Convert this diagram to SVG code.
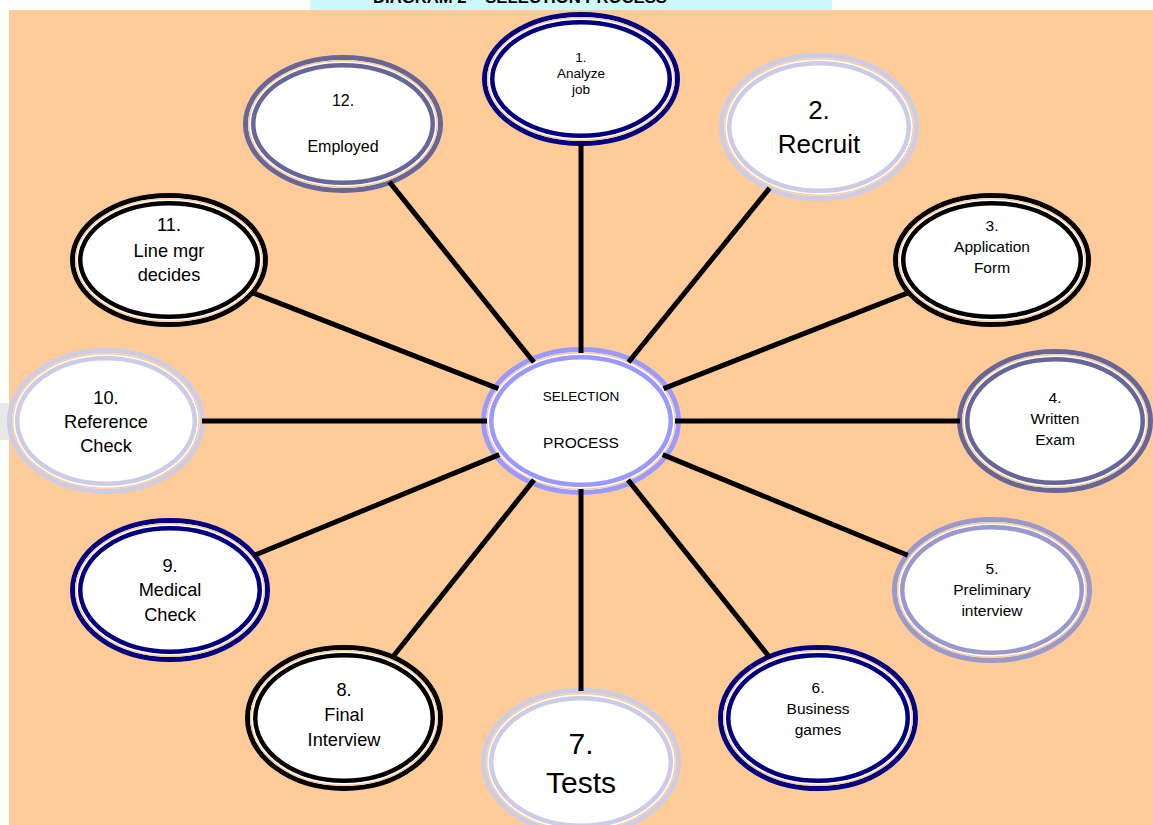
<svg xmlns="http://www.w3.org/2000/svg" width="1153" height="825" viewBox="0 0 1153 825">
<style>
.ring{fill:#fff}
.o{stroke-width:5}
.g{fill:none;stroke:#FFCC99;stroke-width:1.5}
.i{stroke-width:4.5}
.navy .c{stroke:#000080}
.lav .c{stroke:#CCCCE6}
.blk .c{stroke:#000}
.slate .c{stroke:#666699}
.peri .c{stroke:#9999CC}
.hub .c{stroke:#9999FF}
text{font-family:"Liberation Sans",Arial,Helvetica,sans-serif;fill:#000;text-anchor:middle}
.s1{font-size:13.5px}
.s2{font-size:26px}
.sm{font-size:15.5px}
.s7{font-size:30px}
.lg{font-size:18.2px}
.s12{font-size:16px}
#connectors line{stroke:#000;stroke-width:5}
</style>
<rect x="0" y="0" width="1153" height="825" fill="#fff"/>
<rect x="310" y="0" width="522" height="10" fill="#CCFAFC"/>
<rect x="0" y="403" width="9" height="37" fill="#E8E8E8"/>
<rect x="9" y="10" width="1144" height="815" fill="#FFCC99"/>
<text x="520" y="3" font-size="16.5" font-weight="bold" textLength="294" lengthAdjust="spacingAndGlyphs">DIAGRAM 2 – SELECTION PROCESS</text>

<g id="hub" class="hub">
<ellipse class="ring c o" cx="581" cy="421" rx="97.5" ry="71.5"/>
<ellipse class="g" cx="581" cy="421" rx="94.25" ry="68.25"/>
<ellipse class="ring c i" cx="581" cy="421" rx="89.75" ry="63.75"/>
<text x="581" y="401" font-size="13.5">SELECTION</text>
<text x="581" y="448" font-size="15.5">PROCESS</text>
</g>

<g id="n1" class="navy">
<ellipse class="ring c o" cx="581" cy="79" rx="96.5" ry="64.5"/>
<ellipse class="g" cx="581" cy="79" rx="93.25" ry="61.25"/>
<ellipse class="ring c i" cx="581" cy="79" rx="88.75" ry="56.75"/>
<text class="s1" x="581" y="62">1.</text>
<text class="s1" x="581" y="78">Analyze</text>
<text class="s1" x="581" y="94">job</text>
</g>

<g id="n2" class="lav">
<ellipse class="ring c o" cx="819" cy="127" rx="97.5" ry="71.5"/>
<ellipse class="g" cx="819" cy="127" rx="94.25" ry="68.25"/>
<ellipse class="ring c i" cx="819" cy="127" rx="89.75" ry="63.75"/>
<text class="s2" x="819" y="119">2.</text>
<text class="s2" x="819" y="153">Recruit</text>
</g>

<g id="n3" class="blk">
<ellipse class="ring c o" cx="992" cy="260" rx="96.5" ry="64.5"/>
<ellipse class="g" cx="992" cy="260" rx="93.25" ry="61.25"/>
<ellipse class="ring c i" cx="992" cy="260" rx="88.75" ry="56.75"/>
<text class="sm" x="992" y="231">3.</text>
<text class="sm" x="992" y="252">Application</text>
<text class="sm" x="992" y="273">Form</text>
</g>

<g id="n4" class="slate">
<ellipse class="ring c o" cx="1055" cy="421" rx="95.5" ry="69.5"/>
<ellipse class="g" cx="1055" cy="421" rx="92.25" ry="66.25"/>
<ellipse class="ring c i" cx="1055" cy="421" rx="87.75" ry="61.75"/>
<text class="sm" x="1055" y="403">4.</text>
<text class="sm" x="1055" y="424">Written</text>
<text class="sm" x="1055" y="444.5">Exam</text>
</g>

<g id="n5" class="peri">
<ellipse class="ring c o" cx="992" cy="590" rx="97.5" ry="70.5"/>
<ellipse class="g" cx="992" cy="590" rx="94.25" ry="67.25"/>
<ellipse class="ring c i" cx="992" cy="590" rx="89.75" ry="62.75"/>
<text class="sm" x="992" y="573.5">5.</text>
<text class="sm" x="992" y="594.5">Preliminary</text>
<text class="sm" x="992" y="615.5">interview</text>
</g>

<g id="n6" class="navy">
<ellipse class="ring c o" cx="818" cy="718" rx="97.5" ry="70.5"/>
<ellipse class="g" cx="818" cy="718" rx="94.25" ry="67.25"/>
<ellipse class="ring c i" cx="818" cy="718" rx="89.75" ry="62.75"/>
<text class="sm" x="818" y="693">6.</text>
<text class="sm" x="818" y="714">Business</text>
<text class="sm" x="818" y="735">games</text>
</g>

<g id="n7" class="lav">
<ellipse class="ring c o" cx="581" cy="762" rx="97.5" ry="71.5"/>
<ellipse class="g" cx="581" cy="762" rx="94.25" ry="68.25"/>
<ellipse class="ring c i" cx="581" cy="762" rx="89.75" ry="63.75"/>
<text class="s7" x="581" y="754">7.</text>
<text class="s7" x="581" y="793">Tests</text>
</g>

<g id="n8" class="blk">
<ellipse class="ring c o" cx="344" cy="718" rx="96.5" ry="70.5"/>
<ellipse class="g" cx="344" cy="718" rx="93.25" ry="67.25"/>
<ellipse class="ring c i" cx="344" cy="718" rx="88.75" ry="62.75"/>
<text class="lg" x="344" y="695.5">8.</text>
<text class="lg" x="344" y="721">Final</text>
<text class="lg" x="344" y="746">Interview</text>
</g>

<g id="n9" class="navy">
<ellipse class="ring c o" cx="170" cy="590" rx="97.5" ry="69.5"/>
<ellipse class="g" cx="170" cy="590" rx="94.25" ry="66.25"/>
<ellipse class="ring c i" cx="170" cy="590" rx="89.75" ry="61.75"/>
<text class="lg" x="170" y="571.5">9.</text>
<text class="lg" x="170" y="596">Medical</text>
<text class="lg" x="170" y="621">Check</text>
</g>

<g id="n10" class="lav">
<ellipse class="ring c o" cx="106" cy="421" rx="96.5" ry="70.5"/>
<ellipse class="g" cx="106" cy="421" rx="93.25" ry="67.25"/>
<ellipse class="ring c i" cx="106" cy="421" rx="88.75" ry="62.75"/>
<text class="lg" x="106" y="403.5">10.</text>
<text class="lg" x="106" y="427.5">Reference</text>
<text class="lg" x="106" y="451.5">Check</text>
</g>

<g id="n11" class="blk">
<ellipse class="ring c o" cx="169" cy="260" rx="96.5" ry="64.5"/>
<ellipse class="g" cx="169" cy="260" rx="93.25" ry="61.25"/>
<ellipse class="ring c i" cx="169" cy="260" rx="88.75" ry="56.75"/>
<text class="lg" x="169" y="231">11.</text>
<text class="lg" x="169" y="256.5">Line mgr</text>
<text class="lg" x="169" y="281">decides</text>
</g>

<g id="n12" class="slate">
<ellipse class="ring c o" cx="343" cy="124" rx="97.5" ry="66.5"/>
<ellipse class="g" cx="343" cy="124" rx="94.25" ry="63.25"/>
<ellipse class="ring c i" cx="343" cy="124" rx="89.75" ry="58.75"/>
<text class="s12" x="343" y="106">12.</text>
<text class="s12" x="343" y="152">Employed</text>
</g>

<g id="connectors">
<line x1="581" y1="353" x2="581" y2="144"/>
<line x1="628.5" y1="362.3" x2="769.6" y2="188.1"/>
<line x1="663.6" y1="388.6" x2="909.2" y2="292.4"/>
<line x1="675" y1="421" x2="960" y2="421"/>
<line x1="662.7" y1="454.6" x2="907.7" y2="555.3"/>
<line x1="628" y1="479.9" x2="769.6" y2="657.3"/>
<line x1="581" y1="489" x2="581" y2="691"/>
<line x1="534" y1="479.9" x2="392.3" y2="657.5"/>
<line x1="499.3" y1="454.6" x2="254" y2="555.5"/>
<line x1="487" y1="421" x2="202" y2="421"/>
<line x1="498.3" y1="388.7" x2="251.8" y2="292.4"/>
<line x1="533.9" y1="362.2" x2="389.4" y2="181.9"/>
</g>
</svg>
